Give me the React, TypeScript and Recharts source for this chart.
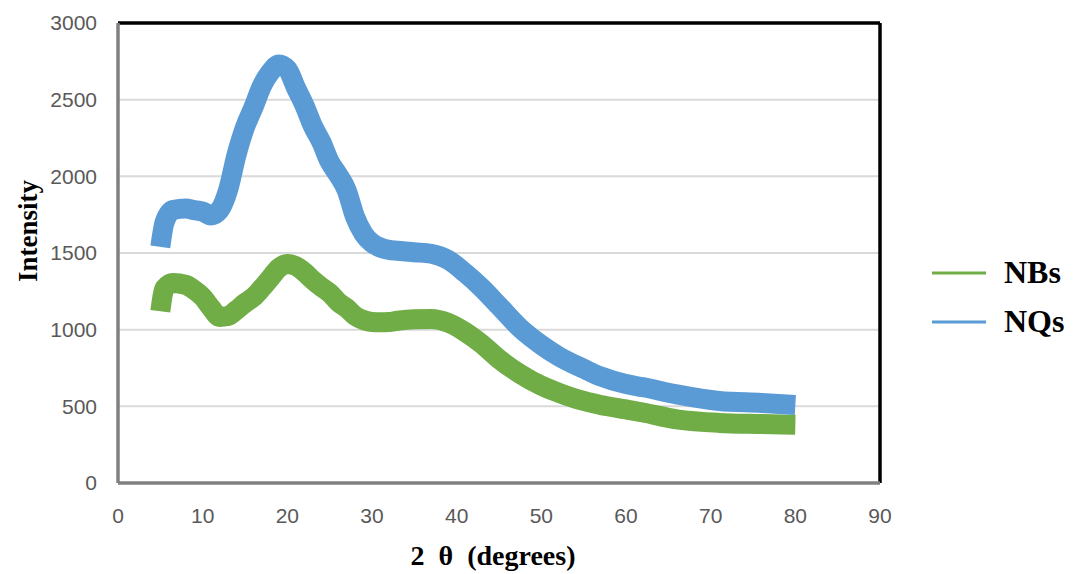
import React from "react";
import { CartesianGrid, Line, LineChart, ReferenceLine, XAxis, YAxis } from "recharts";

const twoTheta = [5, 5.5, 6.5, 8, 9, 10, 11, 12, 13, 14, 15, 16, 17, 18, 19, 20, 21, 22, 23, 24, 25, 26, 27, 28, 29, 30, 31, 32, 33, 35, 37, 39, 41, 43, 45, 47.5, 50, 52, 55, 57, 60, 62, 66, 71, 76, 80];

const nqs = [1540, 1700, 1780, 1790, 1780, 1770, 1745, 1780, 1910, 2140, 2320, 2450, 2590, 2680, 2730, 2700, 2580, 2465, 2330, 2225, 2095, 2010, 1910, 1735, 1625, 1565, 1535, 1520, 1515, 1505, 1495, 1455, 1370, 1270, 1155, 1010, 900, 828, 745, 695, 645, 625, 578, 535, 522, 509];

const nbs = [1120, 1270, 1305, 1292, 1259, 1213, 1141, 1083, 1089, 1128, 1174, 1213, 1272, 1337, 1402, 1428, 1415, 1376, 1324, 1279, 1239, 1181, 1141, 1090, 1063, 1050, 1048, 1050, 1058, 1068, 1070, 1045, 985, 905, 808, 711, 635, 590, 535, 509, 480, 460, 415, 392, 385, 380];

const xTicks = [0, 10, 20, 30, 40, 50, 60, 70, 80, 90];
const yTicks = [0, 500, 1000, 1500, 2000, 2500, 3000];

const series = [
  { key: "NBs", color: "#70AD47" },
  { key: "NQs", color: "#5B9BD5" },
];

const data = twoTheta.map((t, i) => ({ t, NBs: nbs[i], NQs: nqs[i] }));

const serif = "'Liberation Serif', 'Times New Roman', serif";
const tickStyle = { fill: "#595959", fontSize: 21, fontFamily: "'Liberation Sans', Arial, sans-serif" };

function LegendBox() {
  return (
    <div style={{ position: "absolute", left: 932, top: 248 }}>
      {series.map(s => (
        <div key={s.key} style={{ display: "flex", alignItems: "center", height: 49 }}>
          <svg width={54} height={6}>
            <line x1={0} y1={3} x2={54} y2={3} stroke={s.color} strokeWidth={3} />
          </svg>
          <span style={{ marginLeft: 18, fontFamily: serif, fontWeight: "bold", fontSize: 32, color: "#000" }}>
            {s.key}
          </span>
        </div>
      ))}
    </div>
  );
}

export default function App() {
  return (
    <div style={{ position: "absolute", left: 0, top: 0, width: 1074, height: 574, background: "#fff" }}>
      <LineChart width={1074} height={574} data={data} margin={{ top: 23, right: 194, bottom: 31, left: 0 }}>
        <CartesianGrid horizontal vertical={false} stroke="#D9D9D9" strokeWidth={2} />
        <XAxis
          dataKey="t"
          type="number"
          domain={[0, 90]}
          ticks={xTicks}
          height={60}
          tickSize={0}
          tickMargin={25}
          tick={tickStyle}
          axisLine={{ stroke: "#808080", strokeWidth: 3.5 }}
          label={() => (
            <text x={493} y={565} textAnchor="middle" fontFamily={serif} fontWeight="bold" fontSize={28} fill="#000">
              {"2\u00A0\u00A0θ\u00A0\u00A0(degrees)"}
            </text>
          )}
        />
        <YAxis
          type="number"
          domain={[0, 3000]}
          ticks={yTicks}
          width={118}
          tickSize={0}
          tickMargin={21}
          tick={tickStyle}
          axisLine={{ stroke: "#808080", strokeWidth: 3.5 }}
          label={() => (
            <text x={37} y={231} transform="rotate(-90, 37, 231)" textAnchor="middle" fontFamily={serif} fontWeight="bold" fontSize={27} fill="#000">
              Intensity
            </text>
          )}
        />
        <ReferenceLine y={3000} stroke="#000" strokeWidth={3.5} />
        <ReferenceLine x={90} stroke="#000" strokeWidth={3.5} />
        {series.map(s => (
          <Line
            key={s.key}
            dataKey={s.key}
            type="monotone"
            stroke={s.color}
            strokeWidth={20}
            strokeLinejoin="round"
            dot={false}
            activeDot={false}
            isAnimationActive={false}
          />
        ))}
      </LineChart>
      <LegendBox />
    </div>
  );
}
